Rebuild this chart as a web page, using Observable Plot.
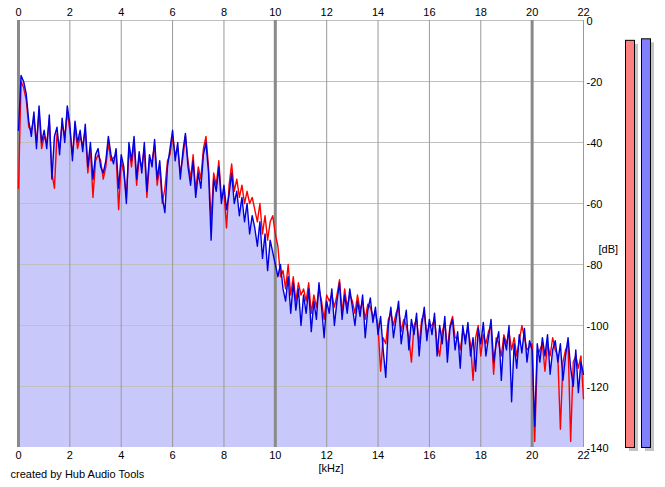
<!DOCTYPE html>
<html><head><meta charset="utf-8">
<script src="https://cdn.jsdelivr.net/npm/d3@7"></script>
<script src="https://cdn.jsdelivr.net/npm/@observablehq/plot@0.6"></script>
<style>body{margin:0;background:#fff;font-family:"Liberation Sans",Arial,sans-serif}</style>
</head><body><div id="chart"></div>
<script>
// frequency bin spacing (kHz)
const binStep = 0.1;
// right channel (blue), dB, bins 0.0 .. 22.0 kHz
const blue = [
-36,-18,-20,-24,-33,-38,-30,-42,-28,-40,-36,
-42,-31,-52,-38,-35,-44,-32,-40,-28,-34,
-46,-33,-40,-36,-43,-34,-48,-40,-52,-44,
-42,-48,-50,-46,-38,-44,-47,-42,-55,-44,
-48,-60,-40,-46,-38,-52,-43,-50,-40,-56,
-44,-48,-39,-52,-46,-58,-63,-48,-42,-36,
-46,-40,-52,-43,-37,-48,-54,-46,-58,-50,
-55,-44,-40,-50,-72,-52,-56,-48,-60,-54,
-62,-57,-50,-60,-56,-64,-58,-66,-60,-70,
-64,-68,-74,-66,-78,-70,-82,-72,-76,-80,
-84,-80,-88,-92,-84,-96,-86,-95,-88,-100,
-90,-96,-88,-102,-92,-98,-86,-94,-104,-92,
-96,-88,-100,-92,-86,-98,-90,-96,-88,-94,
-100,-92,-97,-90,-104,-95,-91,-99,-94,-103,
-97,-108,-117,-100,-94,-104,-98,-92,-106,-100,
-95,-108,-98,-103,-96,-110,-100,-94,-105,-98,
-103,-96,-110,-100,-106,-97,-112,-101,-98,-108,
-102,-114,-100,-106,-99,-110,-104,-115,-101,-106,
-99,-110,-104,-98,-112,-106,-102,-118,-104,-108,
-100,-125,-106,-114,-103,-109,-101,-112,-105,-108,
-133,-106,-112,-104,-110,-103,-116,-108,-105,-112,
-106,-118,-110,-104,-114,-120,-108,-122,-112,-116
];
// left channel (red), dB, same bins
const red = [
-55,-20,-22,-26,-35,-36,-32,-40,-30,-42,-38,
-40,-33,-50,-55,-37,-42,-34,-38,-30,-36,
-44,-35,-42,-38,-41,-36,-50,-42,-58,-46,
-44,-46,-52,-48,-40,-46,-45,-44,-62,-46,
-50,-58,-42,-48,-40,-54,-45,-48,-42,-58,
-46,-46,-41,-54,-48,-60,-55,-46,-44,-38,
-44,-42,-50,-45,-38,-46,-52,-44,-56,-48,
-52,-42,-38,-48,-66,-50,-54,-46,-58,-56,
-68,-54,-47,-56,-52,-58,-54,-60,-56,-60,
-58,-62,-66,-60,-70,-64,-72,-66,-64,-70,
-74,-84,-82,-88,-80,-90,-84,-92,-86,-90,
-88,-92,-86,-96,-90,-94,-88,-92,-98,-90,
-92,-90,-94,-90,-85,-96,-88,-94,-90,-92,
-96,-90,-95,-92,-98,-93,-94,-97,-96,-100,
-115,-104,-106,-98,-96,-100,-96,-94,-102,-98,
-100,-104,-112,-100,-98,-106,-98,-96,-103,-100,
-100,-98,-106,-110,-102,-99,-108,-100,-97,-104,
-104,-108,-102,-104,-101,-106,-118,-104,-100,-110,
-103,-106,-102,-100,-116,-104,-106,-110,-103,-106,
-102,-108,-104,-110,-105,-100,-104,-108,-107,-106,
-138,-110,-108,-106,-115,-106,-110,-104,-108,-110,
-134,-112,-108,-106,-138,-112,-110,-114,-110,-124
];
const xTicks = [0,2,4,6,8,10,12,14,16,18,20,22];
const majorX = [0,10,20];
const yTicks = [0,-20,-40,-60,-80,-100,-120,-140];
// level meters: peak dB per channel
const meterPeaks = [-6.5, -6];
const meterColors = ["#ff8080", "#8080ff"];

const rows = blue.map((v, i) => ({f: i * binStep, blue: v, red: red[i]}));

const plot = Plot.plot({
  width: 665, height: 487,
  marginLeft: 18, marginRight: 82, marginTop: 20, marginBottom: 40,
  style: {fontFamily: "'Liberation Sans', Arial, sans-serif", fontSize: "11px", color: "#000", background: "#fff", overflow: "visible"},
  x: {domain: [0, 22]},
  y: {domain: [-140, 0]},
  marks: [
    Plot.areaY(rows, {x: "f", y1: -140, y2: "blue", fill: "#c8c8fa", curve: "linear"}),
    Plot.ruleY(yTicks.filter(t => t !== -140), {stroke: "#c0c0c0", strokeWidth: 1}),
    Plot.ruleX(xTicks.filter(t => !majorX.includes(t)), {stroke: "#999", strokeWidth: 1}),
    Plot.ruleX(majorX, {stroke: "#8a8a8a", strokeWidth: 3}),
    Plot.lineY(rows, {x: "f", y: "red", stroke: "#ff0000", strokeWidth: 1.4}),
    Plot.lineY(rows, {x: "f", y: "blue", stroke: "#0000e0", strokeWidth: 1.4}),
    Plot.axisX({anchor: "top", ticks: xTicks, tickSize: 0, tickPadding: 5, label: null, tickFormat: d => String(d)}),
    Plot.axisX({anchor: "bottom", ticks: xTicks, tickSize: 0, tickPadding: 4, label: null, tickFormat: d => String(d)}),
    Plot.axisY({anchor: "right", ticks: yTicks, tickSize: 0, tickPadding: 3, label: null, tickFormat: d => String(d), dy: 1}),
    Plot.text(["[dB]"], {frameAnchor: "right", dx: 15, dy: 15, textAnchor: "start", text: d => d}),
    Plot.text(["[kHz]"], {frameAnchor: "bottom", dx: 30, dy: 24, text: d => d}),
    Plot.text(["created by Hub Audio Tools"], {frameAnchor: "bottom-left", dx: -8, dy: 30, textAnchor: "start", text: d => d})
  ]
});

document.getElementById("chart").appendChild(plot);

// level meters drawn with the plot's y scale
const ys = plot.scale("y");
const svg = d3.select(plot);
const meterLeft = [625, 641];
const meterW = 9;
const g = svg.append("g");
meterPeaks.forEach((p, i) => {
  const top = ys.apply(p), bottom = ys.apply(-140);
  g.append("rect").attr("x", meterLeft[i] + 4).attr("y", top + 4)
    .attr("width", meterW).attr("height", bottom - top).attr("fill", "#c4c4c4");
  g.append("rect").attr("x", meterLeft[i] + 0.5).attr("y", top + 0.5)
    .attr("width", meterW).attr("height", bottom - top).attr("fill", meterColors[i])
    .attr("stroke", "#000").attr("stroke-width", 1);
});
</script>
</body></html>
